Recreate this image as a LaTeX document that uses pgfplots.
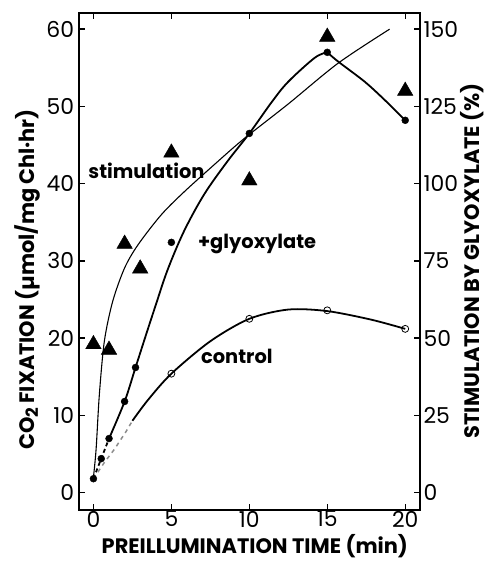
\documentclass[border=0pt]{standalone}
\usepackage{pgfplots}
\pgfplotsset{compat=1.18}
\usepackage{fontspec}
\setmainfont{Poppins}
\begin{document}
\begin{tikzpicture}
\pgfplotsset{
 base/.style={scale only axis, width=343pt, height=499pt, at={(0,0)}, anchor=south west,
  xmin=-0.95, xmax=20.95, axis line style={line width=2pt},
  every tick/.style={line width=1.4pt, black}, major tick length=6pt, tick align=inside,
  /pgf/number format/assume math mode=true,
  tick label style={font=\fontsize{22}{24}\selectfont}, clip=false}
}
\begin{axis}[base, ymin=-2.2, ymax=62.1, ytick={0,10,...,60}, xtick={0,5,...,20},
  xtick pos=both, ytick pos=left, xticklabel pos=bottom,
  xticklabel style={yshift=2pt}, yticklabel style={xshift=-1pt}]
% +glyoxylate
\addplot[black, line width=1.8pt, dash pattern=on 4pt off 3pt] coordinates {(0,1.8) (0.5,4.4) (1,7)};
\addplot[black, line width=1.8pt, smooth, tension=0.55] coordinates {(1,7) (2,11.8) (2.7,16.2) (3.4,20.6) (4,24.3) (4.75,28.8) (5.8,33.8) (7.1,38.6) (8.6,42.9) (10,46.5) (11.45,50.6) (12.5,53.2) (14.2,56.3) (15,57)};
\addplot[black, line width=1.8pt, smooth, tension=0.5] coordinates {(15,57) (15.7,55.8) (17.4,53.2) (18.7,50.8) (20,48.2)};
\addplot[only marks, mark=*, mark size=3.5pt, black] coordinates {(0,1.8) (0.5,4.4) (1,7) (2,11.8) (2.7,16.2) (5,32.4) (10,46.5) (15,57) (20,48.2)};
% control
\addplot[black!45, line width=1.5pt, dash pattern=on 4pt off 4pt] coordinates {(0,1.8) (0.7,3.9) (1.34,5.6) (2.09,7.9) (2.5,9.3)};
\addplot[black, line width=1.8pt, smooth, tension=0.5] coordinates {(2.5,9.3) (3.5,12) (5,15.4) (7.5,19.6) (10,22.5) (12.5,23.7) (15,23.5) (17.8,22.4) (20,21.2)};
\addplot[only marks, mark=o, mark size=3.5pt, black, mark options={fill=white, line width=0.8pt}] coordinates {(5,15.4) (10,22.5) (15,23.6) (20,21.2)};
% labels
\node[font=\fontsize{19.5}{22}\bfseries\selectfont] at (axis cs:3.4,41.6) {stimulation};
\node[font=\fontsize{19.5}{22}\bfseries\selectfont] at (axis cs:10.5,32.2) {+glyoxylate};
\node[font=\fontsize{19.5}{22}\bfseries\selectfont] at (axis cs:9.2,17.6) {control};
\node[rotate=90, anchor=north, font=\fontsize{21}{24}\bfseries\selectfont] at (axis description cs:-0.197,0.463) {CO\raisebox{-0.35ex}{\fontsize{17}{19}\selectfont 2} FIXATION (µmol/mg\,Chl·hr)};
\node[anchor=base, font=\fontsize{21}{24}\bfseries\selectfont] at (axis description cs:0.516,-0.088) {PREILLUMINATION TIME (min)};
\end{axis}
\begin{axis}[base, ymin=-5.5, ymax=155.25, axis x line=none, axis y line*=right,
  ytick={0,25,...,150}, yticklabel style={xshift=0pt}]
\addplot[black, line width=1.1pt, smooth, tension=0.5] coordinates {(0,5) (0.17,14) (0.38,31.8) (0.7,49) (1.23,61.8) (1.98,72.5) (2.83,80) (4.33,89.8) (5.81,97.3) (7.94,107) (9.65,114.5) (12.5,125.8) (15.7,139) (19,150)};
\addplot[only marks, mark=triangle*, mark size=9pt, black] coordinates {(0,48) (1,46.2) (2,80.5) (3,72.5) (5,110) (10,101) (15,147.5) (20,130)};
\node[rotate=90, anchor=south, font=\fontsize{21}{24}\bfseries\selectfont] at (axis description cs:1.198,0.501) {STIMULATION BY GLYOXYLATE (\%)};
\end{axis}
\path[use as bounding box] (-79pt,-49pt) rectangle (415pt,512pt);
\end{tikzpicture}
\end{document}
